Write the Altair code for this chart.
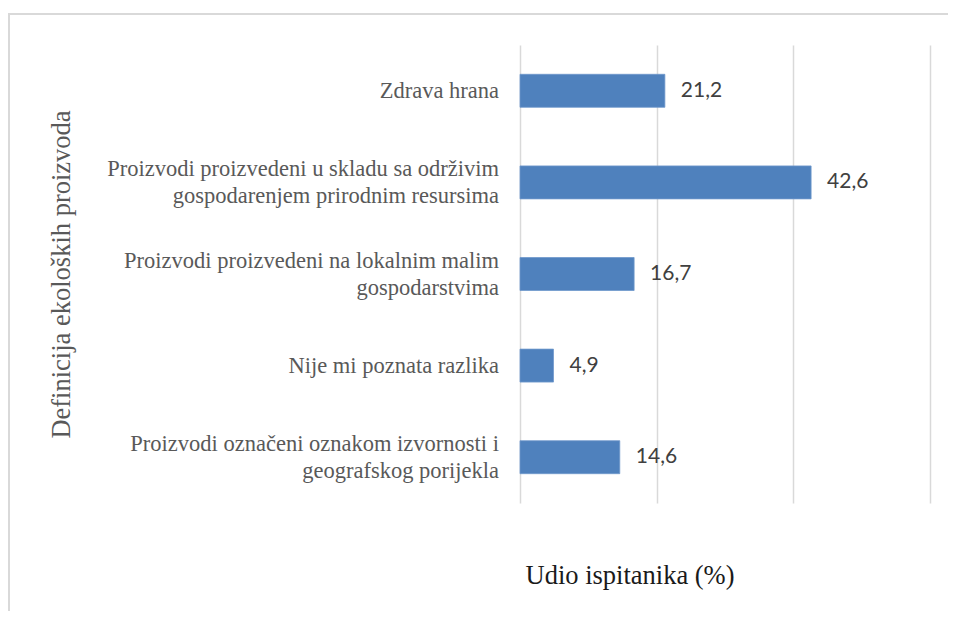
import altair as alt
import pandas as pd

categories = [
    "Zdrava hrana",
    "Proizvodi proizvedeni u skladu sa održivim\ngospodarenjem prirodnim resursima",
    "Proizvodi proizvedeni na lokalnim malim\ngospodarstvima",
    "Nije mi poznata razlika",
    "Proizvodi označeni oznakom izvornosti i\ngeografskog porijekla",
]
values = [21.2, 42.6, 16.7, 4.9, 14.6]
x_ticks = [0, 20, 40, 60]

df = pd.DataFrame({"cat": categories, "value": values})

serif = "Liberation Serif"
line_h = 27

y_scale = alt.Scale(paddingInner=0.64, paddingOuter=0.32)

y_enc = alt.Y(
    "cat:N",
    sort=categories,
    scale=y_scale,
    axis=alt.Axis(
        title="Definicija ekoloških proizvoda",
        titleFont=serif,
        titleFontSize=26.5,
        titleFontWeight="normal",
        titleColor="#595959",
        titleX=-459,
        titleY=229,
        titleAngle=270,
        titleAlign="center",
        titleBaseline="middle",
        labels=False,
        ticks=False,
        domain=False,
        grid=False,
    ),
)

x_enc = alt.X(
    "value:Q",
    scale=alt.Scale(domain=[0, 60], nice=False),
    axis=alt.Axis(
        values=x_ticks,
        labels=False,
        ticks=False,
        domain=False,
        grid=True,
        gridColor="#d9d9d9",
        gridWidth=1.5,
        title="Udio ispitanika (%)",
        titleFont=serif,
        titleFontSize=26.5,
        titleFontWeight="normal",
        titleColor="#1a1a1a",
        titleAnchor="start",
        titleAlign="left",
        titleX=5,
        titleY=80,
        titleBaseline="alphabetic",
    ),
)

bars = alt.Chart(df).mark_bar(color="#4F81BD", stroke="#6f98cc", strokeWidth=0.8).encode(
    x=x_enc, y=y_enc
)

labels = alt.Chart(df).transform_calculate(
    lbl="replace(format(datum.value, '.1f'), '.', ',')"
).mark_text(
    align="left", baseline="middle", dx=16, fontSize=21, color="#404040", font="Lato"
).encode(
    x=alt.X("value:Q"),
    y=alt.Y("cat:N", sort=categories),
    text="lbl:N",
)

cat_labels = alt.Chart(df).transform_calculate(
    off=f"16.5 - (length(split(datum.cat, '\\n')) - 1) * {line_h / 2}"
).mark_text(
    align="right", baseline="middle", font=serif, fontSize=22.5, color="#595959",
    lineBreak="\n", lineHeight=line_h,
).encode(
    x=alt.value(-21),
    y=alt.Y("cat:N", sort=categories),
    yOffset=alt.YOffset("off:Q", scale=None),
    text="cat:N",
)

frame_top = alt.Chart(df).mark_rule(color="#d9d9d9", strokeWidth=2).encode(
    x=alt.value(-520), x2=alt.value(460), y=alt.value(-31)
)
frame_left = alt.Chart(df).mark_rule(color="#d9d9d9", strokeWidth=2).encode(
    x=alt.value(-511), y=alt.value(-31), y2=alt.value(700)
)

chart = alt.layer(bars, labels, cat_labels, frame_top, frame_left).properties(
    width=410,
    height=458,
    background="white",
    autosize=alt.AutoSizeParams(type="none"),
    padding={"left": 512, "top": 37, "right": 18, "bottom": 108},
).configure_view(stroke=None)

chart.save("out.html", embed_options={"renderer": "svg", "actions": False})
